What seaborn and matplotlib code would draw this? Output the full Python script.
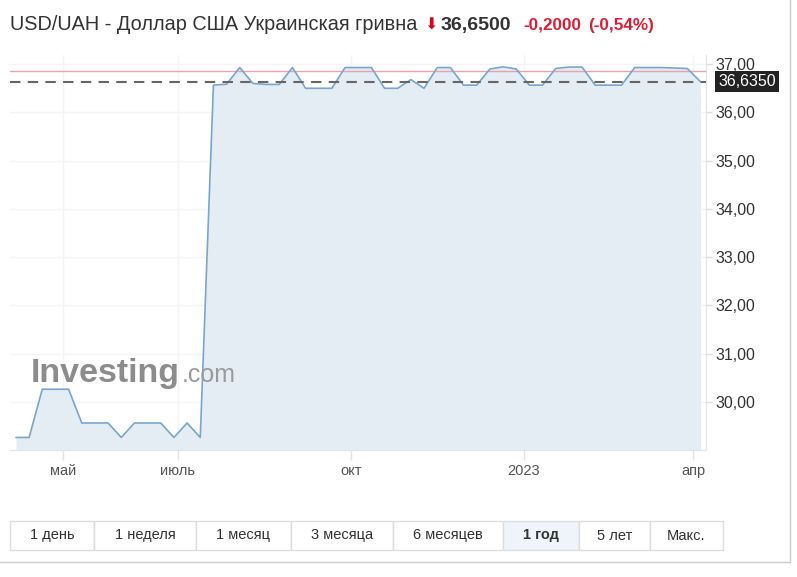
import numpy as np
import pandas as pd
import matplotlib
matplotlib.use("Agg")
import matplotlib.pyplot as plt
import matplotlib.dates as mdates
from matplotlib.patches import Rectangle
import seaborn as sns

# ---- data ----
start_date = "2022-04-06"
rates = [29.26, 29.26, 30.26, 30.26, 30.26, 29.56, 29.56, 29.56, 29.26, 29.56,
         29.56, 29.56, 29.26, 29.56, 29.26, 36.565, 36.585, 36.93, 36.60, 36.58,
         36.58, 36.93, 36.50, 36.50, 36.50, 36.93, 36.93, 36.93, 36.50, 36.50,
         36.68, 36.50, 36.93, 36.93, 36.565, 36.565, 36.90, 36.945, 36.90, 36.565,
         36.565, 36.91, 36.94, 36.94, 36.565, 36.565, 36.565, 36.93, 36.93, 36.93,
         36.92, 36.91, 36.635]
last_value = 36.635
prev_close = 36.85
y_ticks = [30, 31, 32, 33, 34, 35, 36, 37]
x_tick_dates = ["2022-05-01", "2022-07-01", "2022-10-01", "2023-01-01", "2023-04-01"]
x_tick_labels = ["май", "июль", "окт", "2023", "апр"]
buttons = ["1 день", "1 неделя", "1 месяц", "3 месяца", "6 месяцев", "1 год", "5 лет", "Макс."]
active_button = "1 год"

dates = pd.date_range(start_date, periods=len(rates), freq="7D")
df = pd.DataFrame({"date": dates, "rate": rates})

sns.set_style("white")
plt.rcParams["font.family"] = ["Liberation Sans", "DejaVu Sans"]

W, H = 797, 577
fig = plt.figure(figsize=(W / 100, H / 100), dpi=100)

def fx(px):
    return px / W

def fy(py):
    return 1 - py / H

ax_l, ax_r, ax_t, ax_b = 10, 706, 55, 450
ax = fig.add_axes([fx(ax_l), fy(ax_b), (ax_r - ax_l) / W, (ax_b - ax_t) / H])

y_bottom, y_top = 29.0, 37.19
ax.fill_between(df["date"], df["rate"], y_bottom, color="#e4ecf4", lw=0, zorder=1)
sns.lineplot(data=df, x="date", y="rate", ax=ax, color="#7aa5cc", lw=1.2, zorder=3)

ax.axhline(prev_close, color="#eba3ab", lw=1, zorder=2)
ax.axhline(last_value, color="#666666", lw=1.5, ls=(0, (5, 3.5)), zorder=4)

ax.set_ylim(y_bottom, y_top)
ax.set_xlim(pd.Timestamp("2022-04-02 20:00"), pd.Timestamp("2023-04-07 22:00"))

ax.yaxis.tick_right()
ax.set_yticks(y_ticks)
ax.set_yticklabels([f"{v:.2f}".replace(".", ",") for v in y_ticks])
ax.set_xticks(pd.to_datetime(x_tick_dates))
ax.set_xticklabels(x_tick_labels)
ax.set_xlabel("")
ax.set_ylabel("")
ax.tick_params(axis="y", which="both", right=True, length=4, width=1, color="#dddddd",
               labelsize=11.5, labelcolor="#333333", pad=3)
ax.tick_params(axis="x", bottom=True, length=7, width=1, color="#e3e3e3",
               labelsize=10.5, labelcolor="#555555", pad=3)
ax.grid(True, color="#f4f4f4", lw=1, zorder=0)
for s in ["top", "left"]:
    ax.spines[s].set_visible(False)
ax.spines["right"].set_color("#e3e3e3")
ax.spines["bottom"].set_color("#e3e3e3")

# last value label
ax.annotate("36,6350", xy=(1.0, last_value), xycoords=("axes fraction", "data"),
            xytext=(9, 0), textcoords="offset points", ha="left", va="center",
            fontsize=11.5, color="white",
            bbox=dict(boxstyle="square,pad=0.2", fc="#222222", ec="none"))

# watermark
fig.text(fx(31), fy(382), "Investing", fontsize=24.5, fontweight="bold", color="#8c8c8c",
         ha="left", va="baseline", zorder=0)
fig.text(fx(182), fy(382), ".com", fontsize=18, color="#9a9a9a", ha="left", va="baseline")

# title
t_y = fy(30)
fig.text(fx(10), t_y, "USD/UAH - Доллар США Украинская гривна", fontsize=14.3,
         color="#333333", ha="left", va="baseline")
fig.text(fx(424), t_y, "⬇", fontsize=11.5, color="#e0001b", ha="left", va="baseline",
         family=["DejaVu Sans"])
fig.text(fx(441), t_y, "36,6500", fontsize=14, fontweight="bold", color="#333333",
         ha="left", va="baseline")
fig.text(fx(523), t_y, "-0,2000", fontsize=12.3, fontweight="bold", color="#dd1f35",
         ha="left", va="baseline")
fig.text(fx(588), t_y, "(-0,54%)", fontsize=12.3, fontweight="bold", color="#dd1f35",
         ha="left", va="baseline")

# buttons
edges = [10, 94, 196, 291, 393, 503, 579, 650, 723]
b_top, b_bot = 521, 550
for i, lab in enumerate(buttons):
    x0, x1 = edges[i], edges[i + 1]
    active = lab == active_button
    fig.patches.append(Rectangle((fx(x0), fy(b_bot)), (x1 - x0) / W, (b_bot - b_top) / H,
                                 transform=fig.transFigure,
                                 fc="#eef4fa" if active else "white",
                                 ec="#dddddd", lw=1))
    fig.text(fx((x0 + x1) / 2), fy((b_top + b_bot) / 2), lab, fontsize=10.5,
             fontweight="bold" if active else "normal", color="#333333",
             ha="center", va="center")

# outer panel border
fig.add_artist(plt.Line2D([fx(0), fx(790)], [fy(562), fy(562)], transform=fig.transFigure,
                          color="#cccccc", lw=1))
fig.add_artist(plt.Line2D([fx(790), fx(790)], [fy(0), fy(562)], transform=fig.transFigure,
                          color="#cccccc", lw=1))

fig.savefig("out.png", dpi=100)
